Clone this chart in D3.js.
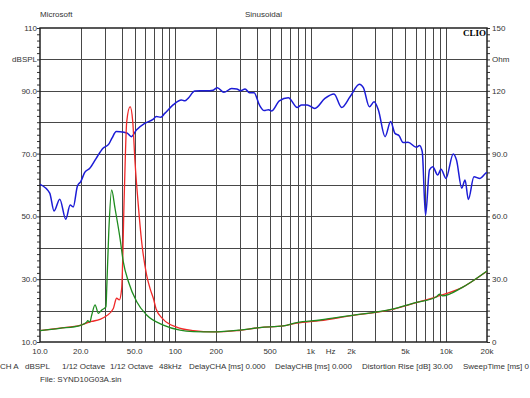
<!DOCTYPE html>
<html lang="en">
<head>
<meta charset="utf-8">
<title>CLIO Sinusoidal</title>
<script src="https://d3js.org/d3.v7.min.js"></script>
<style>
  body { margin: 0; background: #fff; }
  text { font-family: "Liberation Sans", Arial, sans-serif; font-size: 8px; fill: #333; }
</style>
</head>
<body>
<div id="chart"></div>
<script>
// frequency response (dBSPL, left axis)
var splFreq = [10, 11.8, 12.7, 14.0, 15.5, 16.7, 17.6, 18.9, 20.0, 21.4, 23.3, 26.0, 29.2, 32.2, 34.0, 36.6, 41.7, 44.1, 47.3, 51.5, 59.3, 68.3, 72.3, 77.9, 83.4, 96.1, 110.7, 117.3, 124, 139, 152, 169, 190, 204, 228, 260, 284, 303, 327, 352, 381, 417, 452, 487, 515, 585, 682, 795, 855, 940, 1071, 1271, 1483, 1690, 1948, 2283, 2444, 2707, 2932, 3154, 3533, 3886, 4174, 4488, 4800, 5223, 6012, 6357, 6648, 7031, 7521, 7953, 8650, 9153, 9955, 11260, 11900, 13020, 13770, 14570, 16020, 17740, 19500, 20000];
var splDb = [60.2, 57.4, 51.7, 55.5, 49.1, 53.6, 53.0, 59.7, 61.1, 64.0, 65.3, 68.5, 71.7, 73.0, 74.9, 77.0, 76.8, 76.5, 75.4, 77.5, 79.6, 80.9, 81.8, 81.6, 82.8, 85.5, 87.1, 86.8, 87.6, 89.9, 90.0, 90.0, 90.2, 91.0, 89.5, 90.7, 90.6, 90.0, 90.6, 89.4, 89.4, 85.5, 83.7, 84.0, 83.6, 86.8, 87.8, 84.7, 85.5, 85.5, 84.4, 87.6, 89.0, 84.7, 88.1, 92.1, 91.0, 84.9, 86.5, 83.9, 75.4, 80.2, 76.5, 75.7, 73.5, 73.6, 72.0, 72.6, 70.6, 50.4, 64.8, 65.8, 63.2, 65.0, 62.1, 69.9, 68.0, 59.0, 61.6, 55.4, 62.6, 62.1, 63.7, 64.0];

// impedance (Ohm, right axis)
var redFreq = [10, 14, 20, 24, 27.7, 31, 34.8, 36.8, 38.5, 40.1, 41.9, 43.7, 46.3, 48.4, 50.3, 53.2, 56.3, 61.3, 65, 68.7, 72, 81.4, 102, 136, 190, 284, 420, 627, 786, 1171, 1948, 3843, 6012, 8425, 13160, 19400, 20000];
var redOhm = [5.4, 6.6, 8.1, 9.8, 10.8, 12.5, 16.0, 20.9, 20.1, 25.5, 70.2, 105.3, 112.4, 105.3, 86.1, 65.4, 48.0, 32.0, 25.5, 20.9, 15.8, 10.8, 7.1, 5.4, 4.8, 5.4, 6.9, 7.7, 9.0, 10.2, 12.5, 15.3, 18.8, 21.6, 26.1, 33.2, 33.8];

var greenFreq = [10, 14, 20, 22.1, 22.5, 23.3, 24.1, 25.5, 27.0, 28.6, 30.7, 31.1, 32.2, 33.8, 35.8, 39, 41.2, 45, 51.8, 61.3, 81.4, 108, 136, 190, 300, 420, 627, 786, 1171, 1948, 3843, 6012, 8425, 8910, 9400, 13160, 19400, 20000];
var greenOhm = [5.4, 6.5, 8.0, 9.5, 10.2, 9.5, 12.9, 17.7, 13.7, 15.3, 16.8, 25.5, 52.5, 72.6, 63.9, 49.5, 38.4, 28.8, 19.2, 12.9, 8.1, 5.7, 5.0, 4.8, 5.7, 6.9, 7.7, 9.3, 10.5, 12.6, 15.5, 18.9, 21.5, 22.8, 22.0, 26.1, 33.3, 33.9];

var leftTicks = [110, 90, 70, 50, 30, 10];
var rightTicks = [150, 120, 90, 60, 30, 0];
var xTicks = [[10, "10.0"], [20, "20.0"], [50, "50.0"], [100, "100"], [200, "200"], [500, "500"], [1000, "1k"], [1400, "Hz"], [2000, "2k"], [5000, "5k"], [10000, "10k"], [20000, "20k"]];
var xGrid = [20, 30, 40, 50, 60, 70, 80, 90, 100, 200, 300, 400, 500, 600, 700, 800, 900, 1000, 2000, 3000, 4000, 5000, 6000, 7000, 8000, 9000, 10000];
var infoItems = [[0, "CH A"], [25, "dBSPL"], [62, "1/12 Octave"], [110, "1/12 Octave"], [159, "48kHz"], [189, "DelayCHA [ms] 0.000"], [275, "DelayCHB [ms] 0.000"], [362, "Distortion Rise [dB] 30.00"], [463, "SweepTime [ms] 0"]];

var w = 530, h = 398;
var plotL = 40, plotR = 487, plotT = 28, plotB = 342;

var x = d3.scaleLog().domain([10, 20000]).range([plotL, plotR]);
var yL = d3.scaleLinear().domain([10, 110]).range([plotB, plotT]);
var yR = d3.scaleLinear().domain([0, 150]).range([plotB, plotT]);

var svg = d3.select("#chart").append("svg").attr("width", w).attr("height", h);

// grid
svg.append("g").selectAll("line").data(xGrid).enter().append("line")
    .attr("x1", function(d) { return Math.round(x(d)) + 0.5; })
    .attr("x2", function(d) { return Math.round(x(d)) + 0.5; })
    .attr("y1", plotT).attr("y2", plotB)
    .attr("stroke", "#474747").attr("stroke-width", 1);
svg.append("g").selectAll("line").data(d3.range(20, 110, 10)).enter().append("line")
    .attr("x1", plotL).attr("x2", plotR)
    .attr("y1", function(d) { return Math.round(yL(d)) + 0.5; })
    .attr("y2", function(d) { return Math.round(yL(d)) + 0.5; })
    .attr("stroke", "#474747").attr("stroke-width", 1);

// minor ticks
svg.append("g").attr("transform", "translate(" + plotL + ",0)")
    .call(d3.axisLeft(yL).tickValues(d3.range(10, 111, 2)).tickSize(3).tickFormat(""))
    .call(function(g) { g.select(".domain").remove(); g.selectAll("line").attr("stroke", "#333"); });
svg.append("g").attr("transform", "translate(" + plotR + ",0)")
    .call(d3.axisRight(yR).tickValues(d3.range(0, 151, 3)).tickSize(3).tickFormat(""))
    .call(function(g) { g.select(".domain").remove(); g.selectAll("line").attr("stroke", "#333"); });

// frame
svg.append("rect").attr("x", plotL).attr("y", plotT)
    .attr("width", plotR - plotL).attr("height", plotB - plotT)
    .attr("fill", "none").attr("stroke", "#222").attr("stroke-width", 1.5);

// curves
var lineL = d3.line().curve(d3.curveMonotoneX)
    .x(function(d) { return x(d[0]); }).y(function(d) { return yL(d[1]); });
var lineR = d3.line().curve(d3.curveMonotoneX)
    .x(function(d) { return x(d[0]); }).y(function(d) { return yR(d[1]); });

svg.append("path").datum(d3.zip(splFreq, splDb))
    .attr("fill", "none").attr("stroke", "#1c1cd6").attr("stroke-width", 1.5).attr("d", lineL);
svg.append("path").datum(d3.zip(redFreq, redOhm))
    .attr("fill", "none").attr("stroke", "#f02828").attr("stroke-width", 1.3).attr("d", lineR);
svg.append("path").datum(d3.zip(greenFreq, greenOhm))
    .attr("fill", "none").attr("stroke", "#1e8c1e").attr("stroke-width", 1.3).attr("d", lineR);

// axis labels
svg.append("g").selectAll("text").data(leftTicks).enter().append("text")
    .attr("x", plotL - 3).attr("y", function(d) { return yL(d) + 3; })
    .attr("text-anchor", "end").text(function(d) { return d == 110 ? "110" : d.toFixed(1); });
svg.append("text").attr("x", plotL - 3).attr("y", yL(100) + 3).attr("text-anchor", "end").text("dBSPL");

svg.append("g").selectAll("text").data(rightTicks).enter().append("text")
    .attr("x", plotR + 5).attr("y", function(d) { return yR(d) + 3; })
    .text(function(d) { return (d == 150 || d == 120 || d == 0) ? String(d) : d.toFixed(1); });
svg.append("text").attr("x", plotR + 5).attr("y", yR(135) + 3).text("Ohm");

svg.append("g").selectAll("text").data(xTicks).enter().append("text")
    .attr("x", function(d) { return x(d[0]); }).attr("y", plotB + 12)
    .attr("text-anchor", "middle").text(function(d) { return d[1]; });

// titles
svg.append("text").attr("x", 40).attr("y", 17).text("Microsoft");
svg.append("text").attr("x", 245).attr("y", 17).text("Sinusoidal");
svg.append("text").attr("x", 486).attr("y", 36).attr("text-anchor", "end")
    .style("font-family", "'Liberation Serif', serif").style("font-weight", "bold")
    .style("font-size", "9px").style("fill", "#000").text("CLIO");

// info line
svg.append("g").selectAll("text").data(infoItems).enter().append("text")
    .attr("x", function(d) { return d[0]; }).attr("y", 369).text(function(d) { return d[1]; });
svg.append("text").attr("x", 40).attr("y", 382).text("File: SYND10G03A.sin");
</script>
</body>
</html>
